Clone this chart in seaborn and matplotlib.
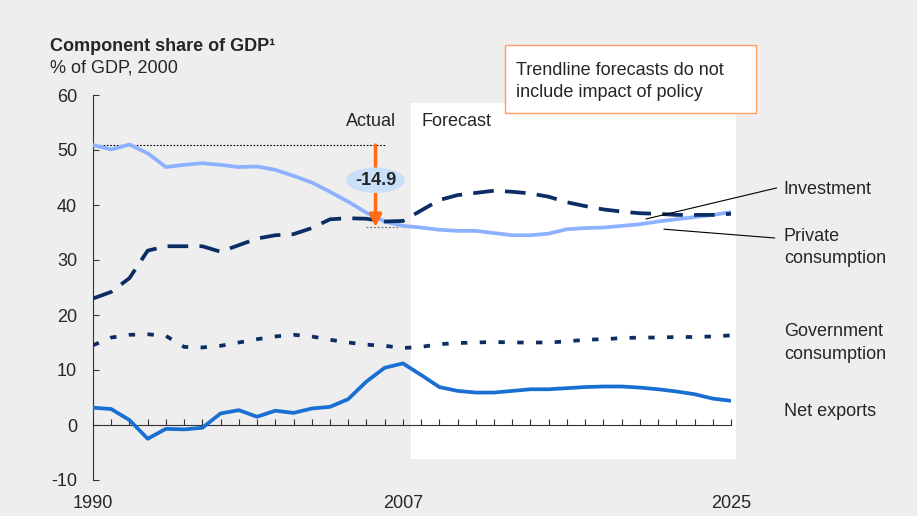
import numpy as np
import pandas as pd
import seaborn as sns
import matplotlib.pyplot as plt
from matplotlib.patches import Ellipse, Rectangle

years = list(range(1990, 2026))
investment = [23.0, 24.2, 26.7, 31.7, 32.5, 32.5, 32.5, 31.5, 32.7, 33.9,
              34.5, 34.7, 35.8, 37.4, 37.6, 37.5, 37.0, 37.1, 39.0, 40.9,
              41.8, 42.2, 42.6, 42.4, 42.1, 41.5, 40.5, 39.8, 39.2, 38.8,
              38.5, 38.4, 38.2, 38.2, 38.2, 38.4]
private_cons = [50.9, 50.1, 51.0, 49.4, 46.9, 47.3, 47.6, 47.3, 46.9, 47.0,
                46.4, 45.3, 44.1, 42.4, 40.6, 38.6, 37.0, 36.2, 35.9, 35.5,
                35.3, 35.3, 34.9, 34.5, 34.5, 34.8, 35.6, 35.8, 35.9, 36.2,
                36.5, 37.0, 37.4, 37.8, 38.2, 38.7]
gov_cons = [14.5, 15.9, 16.4, 16.5, 16.2, 14.2, 14.1, 14.4, 15.0, 15.6,
            16.1, 16.4, 16.1, 15.5, 15.0, 14.6, 14.4, 14.0, 14.2, 14.7,
            14.9, 15.0, 15.1, 15.0, 15.0, 15.0, 15.2, 15.5, 15.6, 15.8,
            15.9, 15.9, 16.0, 16.0, 16.1, 16.3]
net_exports = [3.15, 2.9, 0.9, -2.5, -0.7, -0.8, -0.5, 2.1, 2.7, 1.5,
               2.6, 2.2, 3.0, 3.3, 4.7, 7.9, 10.4, 11.2, 9.1, 6.9,
               6.2, 5.9, 5.9, 6.2, 6.5, 6.5, 6.7, 6.9, 7.0, 7.0,
               6.8, 6.5, 6.1, 5.6, 4.8, 4.4]
drop = -14.9
xtick_labels = [1990, 2007, 2025]
yticks = [-10, 0, 10, 20, 30, 40, 50, 60]

df = pd.DataFrame({"year": years, "Investment": investment,
                   "Private": private_cons, "Government": gov_cons,
                   "Net exports": net_exports})

sns.set_style("white")
plt.rcParams["font.family"] = ["Liberation Sans", "DejaVu Sans"]
plt.rcParams["font.size"] = 13
plt.rcParams["axes.unicode_minus"] = False

navy = "#0B2D63"
light = "#8EB1FF"
mid = "#1A6FD3"
bg = "#EEEEEE"

fig = plt.figure(figsize=(9.17, 5.16), dpi=100, facecolor=bg)
ax = fig.add_axes([93 / 917, 1 - 480 / 516, (731 - 93) / 917, (480 - 95) / 516])
ax.set_facecolor("none")

# forecast area
ax.add_patch(Rectangle((2007.44, -6.25), 2025.27 - 2007.44, 58.5 + 6.25,
                       facecolor="white", edgecolor="none", zorder=0, clip_on=False))

sns.lineplot(data=df, x="year", y="Net exports", ax=ax, color=mid, lw=2.7,
             errorbar=None, zorder=3)
sns.lineplot(data=df, x="year", y="Government", ax=ax, color=navy, lw=2.7,
             linestyle=(0, (1.7, 3.3)), errorbar=None, zorder=3)
sns.lineplot(data=df, x="year", y="Private", ax=ax, color=light, lw=2.7,
             errorbar=None, zorder=3)
sns.lineplot(data=df, x="year", y="Investment", ax=ax, color=navy, lw=2.7,
             linestyle=(0, (5.5, 3.0)), errorbar=None, zorder=4)

ax.set_xlim(1990, 2025)
ax.set_ylim(-10, 60)
ax.set_xlabel("")
ax.set_ylabel("")

for s in ["top", "right"]:
    ax.spines[s].set_visible(False)
ax.spines["bottom"].set_position(("data", 0))
ax.spines["left"].set_color("#333333")
ax.spines["bottom"].set_color("#333333")
ax.set_xticks(years)
ax.set_xticklabels([])
ax.tick_params(axis="x", bottom=True, direction="in", length=4, width=0.8,
               color="#333333")
ax.set_yticks(yticks)
ax.tick_params(axis="y", left=True, direction="in", length=4, width=0.8,
               color="#333333", pad=11.5, labelsize=13)

sec = ax.secondary_xaxis("bottom")
sec.set_xticks(xtick_labels)
sec.tick_params(length=0, pad=11, labelsize=13)
sec.spines["bottom"].set_visible(False)

# change annotation
start = private_cons[0]
end = start + drop
ax.plot([1990, 2006.0], [start, start], color="black", lw=0.8, ls=(0, (1.5, 1.5)),
        zorder=2)
ax.plot([2005.0, 2006.75], [end, end], color="#777777", lw=0.9, ls=(0, (1.5, 1.5)),
        zorder=2)
ax.annotate("", xy=(2005.5, end), xytext=(2005.5, start),
            arrowprops=dict(arrowstyle="-|>", color="#FF6A13", lw=2.5,
                            mutation_scale=18, shrinkA=0, shrinkB=0), zorder=5)
ax.add_patch(Ellipse((2005.5, 44.5), 3.25, 4.6, facecolor="#C9DFFA",
                     edgecolor="none", zorder=6))
ax.text(2005.5, 44.5, f"{drop:.1f}", ha="center", va="center", fontsize=13,
        fontweight="bold", zorder=7)

ax.text(2006.6, 55.2, "Actual", ha="right", va="center", fontsize=13)
ax.text(2008.0, 55.2, "Forecast", ha="left", va="center", fontsize=13)

# series labels
lx = 2027.9
ax.text(lx, 42.9, "Investment", ha="left", va="center", clip_on=False)
ax.text(lx, 32.3, "Private\nconsumption", ha="left", va="center", clip_on=False,
        linespacing=1.4)
ax.text(lx, 14.9, "Government\nconsumption", ha="left", va="center", clip_on=False,
        linespacing=1.4)
ax.text(lx, 2.4, "Net exports", ha="left", va="center", clip_on=False)
ax.plot([2020.33, 2027.5], [37.45, 43.1], color="black", lw=0.8, clip_on=False, zorder=5)
ax.plot([2021.32, 2027.4], [35.6, 34.0], color="black", lw=0.8, clip_on=False, zorder=5)

# titles
fig.text(50 / 917, 1 - 47 / 516, "Component share of GDP¹", fontweight="bold",
         ha="left", va="center", fontsize=13)
fig.text(50 / 917, 1 - 68 / 516, "% of GDP, 2000", ha="left", va="center",
         fontsize=13)

# note box
fig.patches.append(Rectangle((505 / 917, 1 - 113 / 516), 251 / 917, 68 / 516,
                             transform=fig.transFigure, facecolor="white",
                             edgecolor="#FF9E5E", lw=1.0, zorder=10))
fig.text(516 / 917, 1 - 81.5 / 516, "Trendline forecasts do not\ninclude impact of policy",
         ha="left", va="center", fontsize=13, linespacing=1.4, zorder=11)

fig.savefig("out.png", dpi=100, facecolor=bg)
